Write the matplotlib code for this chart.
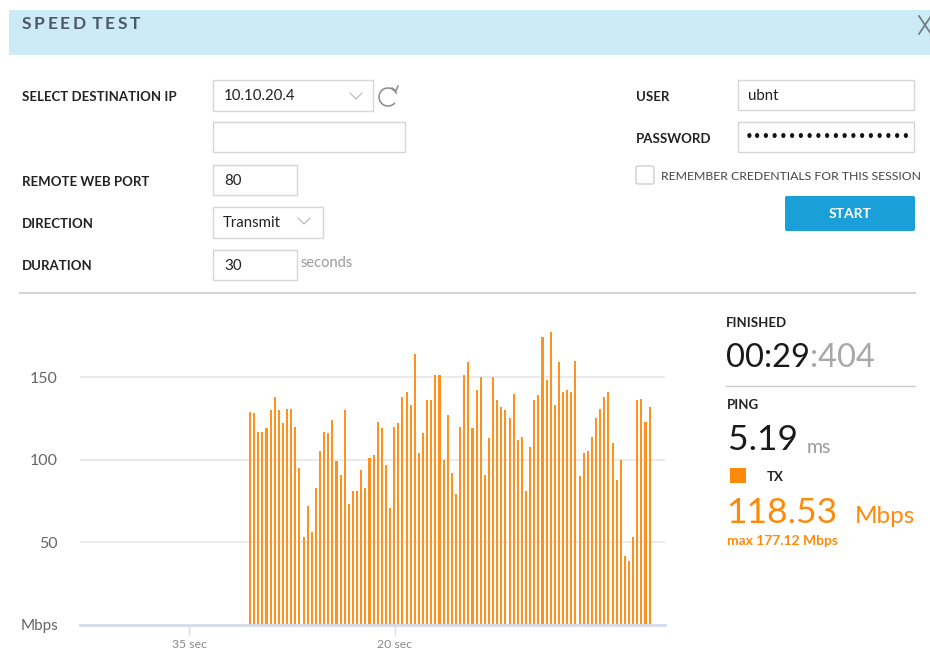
import numpy as np
import matplotlib
matplotlib.use("Agg")
import matplotlib.pyplot as plt
from matplotlib.patches import Rectangle, FancyBboxPatch, Arc

plt.rcParams['font.family'] = ['Lato', 'DejaVu Sans']

# TX throughput samples (Mbps), one every 0.3 s
tx_mbps = [129, 128, 117, 117, 119, 130, 138, 130, 122, 131, 131, 120, 95,
           53, 72, 56, 83, 105, 117, 116, 124, 99, 91, 130, 73,
           81, 81, 94, 83, 101, 103, 123, 119, 97, 71, 120, 122, 138,
           141, 133, 164, 104, 116, 136, 136, 151, 151, 100, 127,
           92, 79, 120, 151, 159, 119, 142, 150, 91, 113, 150, 136, 132,
           130, 125, 140, 112, 114, 81, 108, 136, 139, 174, 148,
           177.1, 133, 159, 141, 142, 141, 160, 90, 104, 105, 114, 125, 131,
           138, 141, 110, 88, 100, 42, 39, 53, 136, 137, 123, 132]
first_sec = 30.56
step_sec = 0.3
y_ticks = [50, 100, 150]
x_ticks = [35, 20]
x_labels = ["35 sec", "20 sec"]

ORANGE = '#ff8a0a'
W, H = 930, 652
fig = plt.figure(figsize=(W / 100, H / 100), dpi=100)

# ---- UI overlay in pixel coords ----
ui = fig.add_axes([0, 0, 1, 1])
ui.set_xlim(0, W)
ui.set_ylim(H, 0)
ui.axis('off')

ui.add_patch(Rectangle((9, 10), W, 45, color='#cdeaf7', lw=0))
prev = ui.text(22, 24, 'S', fontsize=12.5, fontweight='bold', color='#4b5a66', va='center')
for ch in ['P', 'E', 'E', 'D', ' T', 'E', 'S', 'T']:
    prev = ui.annotate(ch, xy=(1, 0.5), xycoords=prev, xytext=(1.8, 0),
                       textcoords='offset points', fontsize=12.5, fontweight='bold',
                       color='#4b5a66', va='center')
ui.plot([919, 931], [16, 34], color='#6d7880', lw=1.2)
ui.plot([919, 931], [34, 16], color='#6d7880', lw=1.2)

lab = dict(fontsize=9.5, fontweight='bold', color='#222222', va='center')
val = dict(fontsize=10.8, color='#222222', va='center')
box = dict(fill=False, ec='#d6d6d6', lw=1)

ui.text(22, 97, 'SELECT DESTINATION IP', **lab)
ui.text(22, 182, 'REMOTE WEB PORT', **lab)
ui.text(22, 224, 'DIRECTION', **lab)
ui.text(22, 266, 'DURATION', **lab)

ui.add_patch(Rectangle((213, 80), 160, 31, **box))
ui.text(224, 96, '10.10.20.4', **val)
ui.plot([350, 356, 362], [93, 99, 93], color='#b5b5b5', lw=0.8)
ui.add_patch(Arc((388, 97), 18, 18, theta1=40, theta2=340, color='#8a8a8a', lw=1.1))
ui.plot([392, 396, 398], [88, 91, 86], color='#8a8a8a', lw=1.1)
ui.add_patch(Rectangle((213, 122), 192, 30, **box))
ui.add_patch(Rectangle((213, 165), 84, 30, **box))
ui.text(224, 181, '80', **val)
ui.add_patch(Rectangle((213, 207), 110, 31, **box))
ui.text(223, 223, 'Transmit', **val)
ui.plot([298, 304, 310], [218, 224, 218], color='#b5b5b5', lw=0.8)
ui.add_patch(Rectangle((213, 250), 84, 30, **box))
ui.text(224, 266, '30', **val)
ui.text(301, 263, 'seconds', fontsize=10.5, color='#9a9a9a', va='center')

ui.text(636, 97, 'USER', **lab)
ui.text(636, 139, 'PASSWORD', **lab)
ui.add_patch(Rectangle((738, 80), 176, 30, **box))
ui.text(748, 96, 'ubnt', **val)
ui.add_patch(Rectangle((738, 122), 176, 30, **box))
ui.text(745, 138, '\u2022' * 19, fontsize=10.5, color='#111111', va='center',
        family='DejaVu Sans')
ui.add_patch(FancyBboxPatch((636, 166), 18, 18, boxstyle='round,pad=0,rounding_size=2',
                            fill=False, ec='#cfcfcf', lw=1))
ui.text(661, 176, 'REMEMBER CREDENTIALS FOR THIS SESSION', fontsize=8.8,
        color='#444444', va='center')
ui.add_patch(FancyBboxPatch((785, 196), 130, 35, boxstyle='round,pad=0,rounding_size=2',
                            color='#1a9fd9', lw=0))
ui.text(850, 214, 'START', fontsize=10, fontweight='bold', color='white',
        ha='center', va='center')

ui.plot([20, 915], [293, 293], color='#cfcfcf', lw=1.3)

# right summary panel
ui.text(726, 323, 'FINISHED', **lab)
t = ui.text(726, 367, '00:29', fontsize=23.5, color='#1a1a1a', va='baseline')
ui.annotate(':404', xy=(1, 0), xycoords=t, xytext=(0, 0), textcoords='offset points',
            fontsize=23.5, color='#a8a8a8', va='bottom')
ui.plot([726, 915], [386, 386], color='#cccccc', lw=1)
ui.text(727, 405, 'PING', **lab)
t = ui.text(728, 450, '5.19', fontsize=25.5, color='#1a1a1a', va='baseline')
ui.annotate('ms', xy=(1, 0), xycoords=t, xytext=(6, 0), textcoords='offset points',
            fontsize=14, color='#9a9a9a', va='bottom')
ui.add_patch(Rectangle((730, 468), 16, 15, color=ORANGE, lw=0))
ui.text(767, 477, 'TX', **lab)
ui.text(726, 523, '118.53', fontsize=25.5, color=ORANGE, va='baseline')
ui.text(855, 523, 'Mbps', fontsize=17.5, color=ORANGE, va='baseline')
ui.text(727, 541, 'max 177.12 Mbps', fontsize=10, fontweight='bold', color=ORANGE, va='center')

# ---- chart ----
ax = fig.add_axes([80 / W, (H - 625) / H, 585 / W, 295 / H])
ax.patch.set_alpha(0)
secs = first_sec - step_sec * np.arange(len(tx_mbps))
ax.bar(secs, tx_mbps, width=0.15, color='#ff9120', lw=0, zorder=3)
ax.set_xlim(42.94, 0.34)
ax.set_ylim(0, 178.5)

ax.set_yticks(y_ticks)
ax.yaxis.grid(True, color='#e6e6e6', lw=1.2)
ax.tick_params(axis='y', length=0, pad=16, labelsize=11.5, labelcolor='#666666')
ax.set_xticks(x_ticks)
ax.set_xticklabels(x_labels)
ax.tick_params(axis='x', length=7, width=1, color='#d5dcec', pad=3,
               labelsize=8.8, labelcolor='#888888')
for s in ['top', 'right', 'left']:
    ax.spines[s].set_visible(False)
ax.spines['bottom'].set_color('#d5dcec')
ax.spines['bottom'].set_linewidth(2)
ax.spines['bottom'].set_zorder(4)

ui.text(58, 626, 'Mbps', fontsize=11, color='#666666', ha='right', va='center')

fig.savefig('out.png', dpi=100)
